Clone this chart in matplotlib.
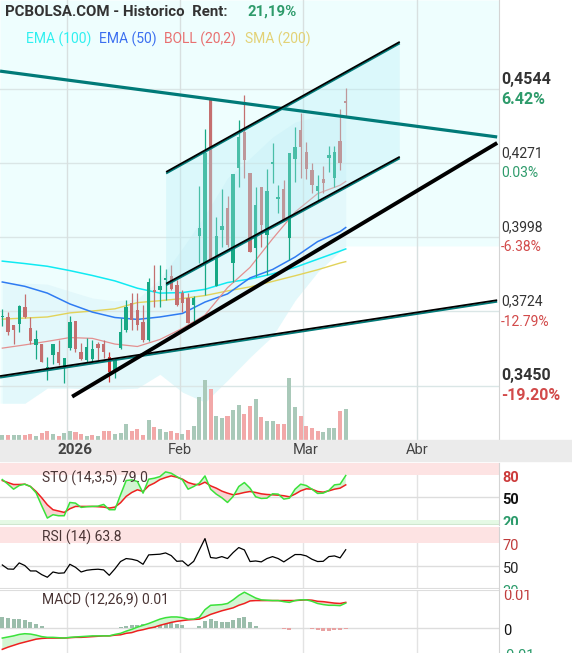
import numpy as np
import matplotlib
matplotlib.use("Agg")
import matplotlib.pyplot as plt
from matplotlib.patches import Polygon, Rectangle
from matplotlib.transforms import offset_copy, blended_transform_factory

plt.rcParams['font.family'] = ['Roboto', 'DejaVu Sans']

# daily sessions
opens = [0.3703, 0.3704, 0.3673, 0.3676, 0.3738, 0.3661, 0.3599, 0.3603, 0.3515, 0.3563,
         0.3575, 0.3519, 0.3587, 0.3689, 0.3575, 0.3544, 0.3547, 0.3603, 0.3603, 0.3554,
         0.3507, 0.3587, 0.3655, 0.3753, 0.3729, 0.3685, 0.3618, 0.3802, 0.3802, 0.3839,
         0.3854, 0.3821, 0.3792, 0.3772, 0.3747, 0.4003, 0.3901, 0.4503, 0.3817, 0.4024,
         0.4104, 0.3903, 0.4251, 0.4386, 0.4233, 0.3956, 0.4183, 0.4005, 0.4268, 0.4139,
         0.4174, 0.3993, 0.4285, 0.4393, 0.4313, 0.4245, 0.4169, 0.4211, 0.4288, 0.4214,
         0.4352, 0.4500]
highs = [0.3731, 0.3722, 0.3673, 0.3747, 0.3788, 0.3704, 0.3655, 0.3603, 0.3554, 0.3603,
         0.3618, 0.3550, 0.3706, 0.3689, 0.3608, 0.3624, 0.3618, 0.3612, 0.3618, 0.3575,
         0.3551, 0.3699, 0.3765, 0.3791, 0.3790, 0.3747, 0.3847, 0.3895, 0.3895, 0.3880,
         0.3895, 0.3839, 0.3802, 0.3791, 0.3780, 0.4186, 0.4395, 0.4503, 0.4073, 0.4174,
         0.4150, 0.4230, 0.4430, 0.4522, 0.4233, 0.4183, 0.4183, 0.4248, 0.4344, 0.4190,
         0.4208, 0.4309, 0.4405, 0.4454, 0.4350, 0.4270, 0.4227, 0.4260, 0.4334, 0.4334,
         0.4470, 0.4547]
lows = [0.3669, 0.3636, 0.3603, 0.3648, 0.3698, 0.3603, 0.3547, 0.3538, 0.3470, 0.3529,
        0.3525, 0.3461, 0.3581, 0.3575, 0.3544, 0.3538, 0.3538, 0.3544, 0.3550, 0.3464,
        0.3478, 0.3585, 0.3647, 0.3655, 0.3655, 0.3611, 0.3614, 0.3741, 0.3741, 0.3765,
        0.3802, 0.3743, 0.3722, 0.3679, 0.3684, 0.3901, 0.3784, 0.3913, 0.3817, 0.3962,
        0.3962, 0.3833, 0.4183, 0.4214, 0.3944, 0.3851, 0.3962, 0.3858, 0.4196, 0.4085,
        0.4061, 0.3913, 0.4202, 0.4214, 0.4211, 0.4159, 0.4134, 0.4159, 0.4239, 0.4183,
        0.4245, 0.4442]
closes = [0.3708, 0.3647, 0.3655, 0.3744, 0.3704, 0.3615, 0.3622, 0.3538, 0.3518, 0.3603,
          0.3534, 0.3550, 0.3685, 0.3584, 0.3547, 0.3591, 0.3585, 0.3590, 0.3575, 0.3501,
          0.3544, 0.3648, 0.3741, 0.3692, 0.3673, 0.3618, 0.3833, 0.3794, 0.3817, 0.3846,
          0.3806, 0.3747, 0.3753, 0.3679, 0.3773, 0.4032, 0.4307, 0.3913, 0.4003, 0.4038,
          0.3968, 0.4230, 0.4368, 0.4282, 0.3944, 0.4116, 0.4042, 0.4169, 0.4275, 0.4147,
          0.4061, 0.4309, 0.4331, 0.4329, 0.4248, 0.4190, 0.4186, 0.4198, 0.4300, 0.4313,
          0.4272, 0.4493]
volumes = [50, 50, 50, 50, 50, 60, 40, 70, 90, 60, 40, 70, 90, 80, 60, 40, 50, 40, 90, 90,
           60, 70, 160, 90, 110, 50, 200, 130, 110, 80, 90, 70, 60, 100, 140, 430, 600, 510, 240, 220,
           240, 300, 350, 260, 340, 410, 230, 190, 190, 160, 160, 620, 330, 240, 140, 120, 90, 80, 120, 120,
           290, 310]

# overlays sampled every few sessions
ind_x = [0, 4, 8, 12, 16, 20, 24, 28, 32, 36, 40, 44, 48, 52, 56, 60, 61]
ema100 = [0.3909, 0.3900, 0.3890, 0.3874, 0.3856, 0.3836, 0.3809, 0.3791, 0.3793, 0.3805,
          0.3830, 0.3843, 0.3862, 0.3886, 0.3916, 0.3946, 0.3954]
ema50 = [0.3832, 0.3816, 0.3791, 0.3751, 0.3721, 0.3701, 0.3694, 0.3703, 0.3716, 0.3758,
         0.3788, 0.3847, 0.3878, 0.3924, 0.3981, 0.4018, 0.4033]
sma200 = [0.3695, 0.3699, 0.3703, 0.3718, 0.3725, 0.3733, 0.3756, 0.3763, 0.3771, 0.3782,
          0.3799, 0.3814, 0.3834, 0.3855, 0.3877, 0.3902, 0.3907]
boll_mid = [0.3588, 0.3600, 0.3613, 0.3627, 0.3624, 0.3603, 0.3594, 0.3620, 0.3661, 0.3710,
            0.3811, 0.3886, 0.3991, 0.4090, 0.4158, 0.4189, 0.4203]
boll_up = [0.3828, 0.3828, 0.3824, 0.3798, 0.3773, 0.3762, 0.3769, 0.3843, 0.3957, 0.4079,
           0.4216, 0.4289, 0.4367, 0.4422, 0.4444, 0.4437, 0.4433]
boll_low = [0.3385, 0.3385, 0.3441, 0.3441, 0.3437, 0.3437, 0.3441, 0.3492, 0.3426, 0.3389,
            0.3470, 0.3555, 0.3633, 0.3765, 0.3869, 0.3946, 0.3965]

# hand drawn trend lines: (x0, x1), (p0, p1)
line_top = ([-0.4, 87.9], [0.4610, 0.4367])
line_base = ([-0.4, 87.9], [0.3482, 0.3762])
line_support = ([12.4, 87.9], [0.3409, 0.4345])
chan_upper = ([29.1, 70.6], [0.4235, 0.4715])
chan_lower = ([29.1, 70.6], [0.3823, 0.4291])

# indicators
sto_k = [73.6, 67.4, 60.7, 65.6, 67.4, 64.3, 55.8, 38.5, 22.0, 26.5, 25.1, 25.1, 42.9, 42.0, 36.3,
         37.2, 37.6, 38.0, 40.3, 33.2, 33.2, 53.2, 72.3, 73.2, 71.0, 55.4, 74.1, 75.4, 77.6, 83.9,
         82.1, 77.6, 73.2, 60.7, 64.3, 68.8, 78.5, 60.7, 54.1, 49.2, 42.9, 51.0, 64.3, 69.6, 62.1,
         50.5, 48.3, 48.7, 54.5, 54.1, 47.4, 48.7, 60.7, 67.4, 65.6, 60.7, 55.0, 55.4, 59.0, 66.5,
         67.4, 79.0]
sto_d = [72.3, 69.6, 67.0, 67.0, 67.4, 64.3, 57.6, 49.2, 39.8, 33.2, 31.4, 29.6, 34.5, 37.6, 37.6,
         37.6, 37.6, 37.2, 36.7, 35.4, 36.7, 42.5, 51.0, 56.3, 59.9, 57.6, 65.2, 68.8, 73.6, 76.3,
         78.5, 76.8, 74.1, 69.6, 67.4, 66.5, 70.1, 65.2, 62.1, 58.1, 55.4, 53.2, 54.5, 56.3, 57.6,
         56.3, 54.5, 53.6, 53.2, 52.7, 51.9, 50.5, 54.1, 58.5, 61.2, 60.7, 57.6, 56.7, 58.5, 60.7,
         62.1, 66.5]
rsi = [50.5, 47.0, 46.8, 52.3, 50.0, 45.3, 45.3, 42.1, 39.8, 44.4, 43.3, 43.6, 51.1, 48.5, 44.4,
       45.9, 46.5, 46.8, 46.2, 41.5, 47.1, 53.5, 56.1, 55.5, 54.3, 51.1, 59.3, 59.6, 59.9, 61.0,
       58.7, 53.7, 54.0, 49.7, 53.7, 63.6, 73.5, 57.0, 56.4, 57.8, 56.1, 61.3, 65.7, 63.6, 53.5,
       54.0, 53.2, 56.1, 57.8, 56.1, 53.2, 56.4, 59.6, 59.6, 58.4, 55.5, 53.5, 53.7, 57.8, 58.4,
       56.7, 63.8]
macd = [-2.7, -2.4, -2.1, -1.7, -1.5, -1.6, -1.9, -2.3, -2.5, -2.5, -2.6, -2.7, -2.5, -2.4, -2.3,
        -2.2, -2.1, -2.1, -2.1, -2.1, -1.7, -1.4, -0.8, -0.3, 0.3, 0.8, 1.3, 1.9, 2.5, 2.9,
        3.1, 3.1, 2.9, 2.5, 2.5, 3.0, 5.1, 6.3, 6.4, 6.5, 6.8, 7.8, 9.0, 9.9, 9.1,
        8.3, 7.8, 7.7, 7.6, 7.6, 7.3, 7.1, 7.6, 7.8, 7.8, 7.4, 6.8, 6.5, 6.3, 6.3,
        6.2, 6.9]  # x 1e-3
signal = [-5.8, -5.2, -4.7, -4.2, -3.8, -3.4, -3.0, -2.8, -2.7, -2.7, -2.7, -2.7, -2.6, -2.5, -2.5,
          -2.4, -2.3, -2.2, -2.1, -2.1, -1.9, -1.8, -1.4, -1.2, -0.7, -0.4, 0.0, 0.3, 0.8, 1.2,
          1.6, 1.9, 2.1, 2.3, 2.4, 2.5, 3.1, 3.8, 4.3, 4.8, 5.2, 5.6, 6.3, 6.8, 7.5,
          7.6, 7.6, 7.6, 7.6, 7.6, 7.6, 7.6, 7.6, 7.7, 7.8, 7.7, 7.4, 7.3, 7.1, 6.9,
          6.8, 7.1]  # x 1e-3

price_ticks = [0.4544, 0.4271, 0.3998, 0.3724, 0.3450]
price_labels = ['0,4544', '0,4271', '0,3998', '0,3724', '0,3450']
pct_labels = ['6.42%', '0.03%', '-6.38%', '-12.79%', '-19.20%']
date_grid = [11.5, 31.55, 53.4, 73.7]
date_label_x = [12.9, 31.55, 53.8, 73.7]
date_labels = ['2026', 'Feb', 'Mar', 'Abr']

# ---------------------------------------------------------------
W, H = 572, 653
fig = plt.figure(figsize=(W / 100, H / 100), dpi=100)
fig.patch.set_facecolor('white')


def rect(x0, y0, x1, y1):
    return [x0 / W, 1 - y1 / H, (x1 - x0) / W, (y1 - y0) / H]


def bare(a):
    a.set_xticks([])
    a.set_yticks([])
    for s in a.spines.values():
        s.set_visible(False)


n = len(closes)
x = np.arange(n)
o, h, l, c = map(np.array, (opens, highs, lows, closes))
xlim = (-2.3 / 5.63, (499 - 2.3) / 5.63)
plim = (0.32491, 0.48723)

# date band
fig.patches.append(Rectangle((0, 1 - 461 / H), 1, 21 / H, transform=fig.transFigure,
                             color='#ebebeb', zorder=0))

# --- background + volume layer ---
axv = fig.add_axes(rect(0, 0, 499, 440))
bare(axv)
axv.set_facecolor('white')
ax = fig.add_axes(rect(0, 0, 499, 440))
bare(ax)
ax.patch.set_alpha(0)
ax.set_xlim(xlim)
ax.set_ylim(plim)

# shaded zones (above lower band light, band itself a bit darker)
bx = [xlim[0]] + ind_x + [xlim[1]]
blow = [boll_low[0]] + boll_low + [boll_low[-1]]
axv.fill_between(bx, blow, plim[1], color='#eefefe', lw=0, zorder=0.5, transform=ax.transData)
axv.fill_between(ind_x, boll_low, boll_up, color='#e3f8fb', lw=0, zorder=0.6, transform=ax.transData)
for p in price_ticks:
    axv.plot(xlim, [p, p], color='#dae6e6', lw=1, zorder=1, transform=ax.transData)
vol_col = ['#a9c9b9' if i == 0 or c[i] >= c[i - 1] else '#f2a8a8' for i in range(n)]
axv.bar(x, volumes, width=0.72, color=vol_col, zorder=3)
for t in date_grid:
    axv.axvline(t, color='#d8e0e0', lw=1, zorder=1)
axv.set_xlim(xlim)
axv.set_ylim(0, 4400)

ax.plot(ind_x, sma200, color='#e2d35a', lw=1.0, zorder=2)
ax.plot(ind_x, ema100, color='#10eaf2', lw=1.1, zorder=2)
ax.plot(ind_x, ema50, color='#2f7bf2', lw=1.1, zorder=2)
ax.plot(ind_x, boll_mid, color='#e39090', lw=0.9, zorder=2)

up = c >= o
low_idx = int(np.argmin(c))
body_col = ['#17a884' if up[i] else ('#d63a3a' if i == low_idx else '#c46f6f') for i in range(n)]
ax.vlines(x, l, h, colors=body_col, lw=0.9, zorder=3)
body = np.maximum(np.abs(c - o), 0.0005)
ax.bar(x, body, bottom=np.minimum(o, c), width=0.6, color=body_col, zorder=3)

# channel shading
chan = Polygon([(chan_upper[0][0], chan_upper[1][0]), (chan_upper[0][1], chan_upper[1][1]),
                (chan_lower[0][1], chan_lower[1][1]), (chan_lower[0][0], chan_lower[1][0])],
               closed=True, facecolor='#b4eef6', alpha=0.32, lw=0, zorder=4)
ax.add_patch(chan)

teal = '#007a78'
up_t = offset_copy(ax.transData, fig=fig, x=0, y=0.8, units='dots')
dn_t = offset_copy(ax.transData, fig=fig, x=0, y=-0.8, units='dots')
ax.plot(*line_top, color=teal, lw=2.3, zorder=5, solid_capstyle='butt')
for ln in (line_base, chan_upper, chan_lower):
    ax.plot(*ln, color=teal, lw=1.3, zorder=5, transform=dn_t, solid_capstyle='butt')
    ax.plot(*ln, color='black', lw=1.3, zorder=5, transform=up_t, solid_capstyle='butt')
ax.plot(*line_support, color='black', lw=2.8, zorder=5, solid_capstyle='butt')

# right price column
labm = fig.add_axes(rect(499, 0, 572, 440))
bare(labm)
labm.spines['left'].set_visible(True)
labm.spines['left'].set_color('#d4d4d4')
labm.set_ylim(plim)
labm.set_xlim(0, 1)
for k, (p, s, q) in enumerate(zip(price_ticks, price_labels, pct_labels)):
    bold = k in (0, len(price_ticks) - 1)
    fs = 11.5 if bold else 10
    fw = 'bold' if bold else 'normal'
    labm.annotate(s, (0.03, p), xytext=(0, 7), textcoords='offset points', ha='left',
                  va='center', fontsize=fs, fontweight=fw, color='#333333')
    labm.annotate(q, (0.03, p), xytext=(0, -7.5), textcoords='offset points', ha='left',
                  va='center', fontsize=fs, fontweight=fw,
                  color='#2e9b6b' if not q.startswith('-') else '#d24a4a')

# header texts
fig.text(5 / W, 1 - 12 / H, 'PCBOLSA.COM - Historico  Rent:', fontsize=10.8, fontweight='bold',
         color='#333333', va='center', ha='left')
fig.text(247 / W, 1 - 12 / H, '21,19%', fontsize=10.8, fontweight='bold', color='#2e9b6b',
         va='center', ha='left')
for tx, px, col in [('EMA (100)', 26, '#2ff0f0'), ('EMA (50)', 99, '#3b6ff0'),
                    ('BOLL (20,2)', 164, '#e87070'), ('SMA (200)', 245, '#e3d276')]:
    fig.text(px / W, 1 - 39 / H, tx, fontsize=10, color=col, va='center', ha='left')

# date labels
dtr = blended_transform_factory(ax.transData, fig.transFigure)
for dx, s in zip(date_label_x, date_labels):
    fig.text(dx, 1 - 450 / H, s, transform=dtr, ha='center', va='center',
             fontsize=11 if s == '2026' else 10.5,
             fontweight='bold' if s == '2026' else 'normal', color='#444444')


def panel(y0, y1, ylim):
    a = fig.add_axes(rect(0, y0, 499, y1))
    bare(a)
    a.set_facecolor('white')
    a.set_xlim(xlim)
    a.set_ylim(ylim)
    for t in date_grid:
        a.axvline(t, color='#e3e3e3', lw=1, zorder=0)
    lab = fig.add_axes(rect(499, y0, 572, y1))
    bare(lab)
    lab.spines['left'].set_visible(True)
    lab.spines['left'].set_color('#d4d4d4')
    lab.set_ylim(ylim)
    lab.set_xlim(0, 1)
    return a, lab


def rlabel(lab, v, s, col, bold=False, dy=-2.2):
    lab.annotate(s, (0.05, v), xytext=(0, dy), textcoords='offset points', ha='left',
                 va='center', fontsize=10.5, fontweight='bold' if bold else 'normal',
                 color=col, annotation_clip=False, clip_on=True)


k_arr, d_arr = np.array(sto_k), np.array(sto_d)

# STO
a1, l1 = panel(463, 525, (12.7, 95.8))
a1.axhspan(80, 100, color='#fde3e3', lw=0, zorder=0)
a1.axhspan(0, 20, color='#e5f9e5', lw=0, zorder=0)
a1.axhline(50, color='#dddddd', lw=1, zorder=0)
a1.axhline(12.7, color='#cfe6cf', lw=1.5, zorder=1)
a1.fill_between(x, k_arr, d_arr, where=k_arr >= d_arr, interpolate=True, color='#d3f5d3', lw=0, zorder=1)
a1.fill_between(x, k_arr, d_arr, where=k_arr < d_arr, interpolate=True, color='#f8d3d3', lw=0, zorder=1)
a1.plot(x, d_arr, color='#ee2020', lw=1.1, zorder=2)
a1.plot(x, k_arr, color='#3be23b', lw=1.1, zorder=2)
rlabel(l1, 80, '80', '#cc3b3b', True)
rlabel(l1, 50, '50', '#111111', True)
rlabel(l1, 20, '20', '#2a9a6a', True)

# RSI
a2, l2 = panel(527, 588.5, (30, 83.6))
a2.axhspan(70, 100, color='#fde3e3', lw=0, zorder=0)
a2.axhline(50, color='#dddddd', lw=1, zorder=0)
a2.axhline(30, color='#dddddd', lw=1.5, zorder=0)
a2.plot(x, rsi, color='black', lw=0.9, zorder=2)
rlabel(l2, 70, '70', '#c03c3c')
rlabel(l2, 50, '50', '#222222')
rlabel(l2, 30, '30', '#2a9a6a')

# MACD
m_arr, s_arr = np.array(macd), np.array(signal)
hist = m_arr - s_arr
a3, l3 = panel(590, 653, (-6.8, 10.5))
a3.axhline(0, color='#dddddd', lw=1, zorder=0)
a3.axhline(10.5, color='#dddddd', lw=1.5, zorder=0)
a3.bar(x, hist, width=0.72, color=np.where(hist >= 0, '#9bbdab', '#e8a2a2'), zorder=1)
a3.fill_between(x, m_arr, s_arr, where=m_arr >= s_arr, interpolate=True, color='#d3f5d3', lw=0, zorder=1)
a3.fill_between(x, m_arr, s_arr, where=m_arr < s_arr, interpolate=True, color='#f8d3d3', lw=0, zorder=1)
a3.plot(x, s_arr, color='#ee2020', lw=1.1, zorder=2)
a3.plot(x, m_arr, color='#3be23b', lw=1.1, zorder=2)
rlabel(l3, 10, '0.01', '#c03c3c', dy=-3)
rlabel(l3, 0, '0', '#111111', dy=-2.2)
rlabel(l3, -6.8, '-0.01', '#2a9a6a', dy=-2.5)

# panel titles
for yy, s in [(478, 'STO (14,3,5) 79.0'), (537, 'RSI (14) 63.8'), (600, 'MACD (12,26,9) 0.01')]:
    fig.text(42 / W, 1 - yy / H, s, fontsize=10, color='#4a3535', va='center', ha='left')

fig.savefig('out.png', dpi=100)
